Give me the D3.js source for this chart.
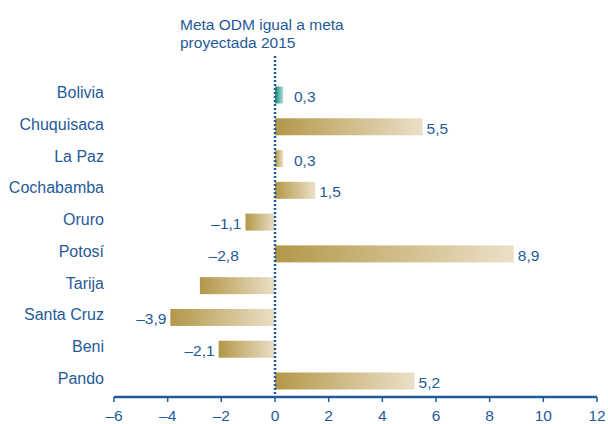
<!DOCTYPE html>
<html>
<head>
<meta charset="utf-8">
<script src="https://cdn.jsdelivr.net/npm/d3@7"></script>
<style>
  body { margin: 0; background: #fff; }
  text { font-family: "Liberation Sans", Arial, sans-serif; fill: #1f5b98; }
</style>
</head>
<body>
<div id="chart"></div>
<script>
// departamentos y diferencia con la meta proyectada
var departamentos = ["Bolivia", "Chuquisaca", "La Paz", "Cochabamba", "Oruro",
                     "Potosí", "Tarija", "Santa Cruz", "Beni", "Pando"];
var valores = [0.3, 5.5, 0.3, 1.5, -1.1, 8.9, -2.8, -3.9, -2.1, 5.2];
var ticks = [-6, -4, -2, 0, 2, 4, 6, 8, 10, 12];

var config = {
  w: 608,
  h: 424,
  left: 114,
  right: 597,
  axisY: 397,
  barH: 17
};

var blue = "#1f5b98";

var svg = d3.select("#chart")
  .append("svg")
  .attr("width", config.w)
  .attr("height", config.h);

var x = d3.scaleLinear().domain([-6, 12]).range([config.left, config.right]);
var y = d3.scalePoint().domain(departamentos).range([95, 381]);

var defs = svg.append("defs");

// gradientes: dorado para departamentos, verde agua para Bolivia
function grad(id, c1, c2) {
  var g = defs.append("linearGradient").attr("id", id)
    .attr("x1", "0%").attr("x2", "100%").attr("y1", "0%").attr("y2", "0%");
  g.append("stop").attr("offset", "0%").attr("stop-color", c1);
  g.append("stop").attr("offset", "100%").attr("stop-color", c2);
}
grad("gold", "#b39748", "#ebe0c8");
grad("teal", "#138677", "#ace0d6");

var data = departamentos.map(function(d, i) { return {name: d, v: valores[i]}; });

// barras
svg.selectAll(".bar")
  .data(data)
  .enter()
  .append("rect")
  .attr("class", "bar")
  .attr("x", function(d) { return x(Math.min(0, d.v)); })
  .attr("y", function(d) { return y(d.name) - config.barH / 2; })
  .attr("width", function(d) { return Math.abs(x(d.v) - x(0)); })
  .attr("height", config.barH)
  .style("fill", function(d) { return d.name == "Bolivia" ? "url(#teal)" : "url(#gold)"; });

// nombres
svg.selectAll(".name")
  .data(data)
  .enter()
  .append("text")
  .attr("x", 104)
  .attr("y", function(d) { return y(d.name) + 3; })
  .attr("text-anchor", "end")
  .style("font-size", "16px")
  .text(function(d) { return d.name; });

// valores (la etiqueta de Tarija aparece desplazada en el original)
svg.selectAll(".val")
  .data(data)
  .enter()
  .append("text")
  .attr("x", function(d) {
    if (d.name == "Tarija") return x(-1.35);
    return d.v >= 0 ? Math.max(x(d.v) + 4, x(0) + 19) : x(d.v) - 4;
  })
  .attr("y", function(d) {
    var cy = d.name == "Tarija" ? y("Potosí") : y(d.name);
    return cy + 7;
  })
  .attr("text-anchor", function(d) { return d.v >= 0 ? "start" : "end"; })
  .style("font-size", "15.5px")
  .text(function(d) { return d3.format(".1f")(Math.abs(d.v)).replace(".", ",").replace(/^/, d.v < 0 ? "\u2013" : ""); });

// línea punteada de la meta
svg.append("line")
  .attr("x1", x(0)).attr("x2", x(0))
  .attr("y1", 56).attr("y2", config.axisY)
  .style("stroke", blue)
  .style("stroke-width", 2.5)
  .style("stroke-dasharray", "2,2");

svg.append("text").attr("x", 180).attr("y", 30).style("font-size", "15.5px")
  .text("Meta ODM igual a meta");
svg.append("text").attr("x", 180).attr("y", 48).style("font-size", "15.5px")
  .text("proyectada 2015");

// eje x
var axis = svg.append("g").attr("transform", "translate(0," + config.axisY + ")");
axis.append("line")
  .attr("x1", x(-6)).attr("x2", x(12))
  .style("stroke", blue).style("stroke-width", 2.5);
axis.selectAll(".tick")
  .data(ticks)
  .enter()
  .append("line")
  .attr("x1", function(d) { return x(d); }).attr("x2", function(d) { return x(d); })
  .attr("y1", 0).attr("y2", 5)
  .style("stroke", blue).style("stroke-width", 1.5);
axis.selectAll(".lbl")
  .data(ticks)
  .enter()
  .append("text")
  .attr("x", function(d) { return x(d); })
  .attr("y", 24)
  .attr("text-anchor", "middle")
  .style("font-size", "15.5px")
  .text(function(d) { return d < 0 ? "\u2013" + Math.abs(d) : d; });
</script>
</body>
</html>
